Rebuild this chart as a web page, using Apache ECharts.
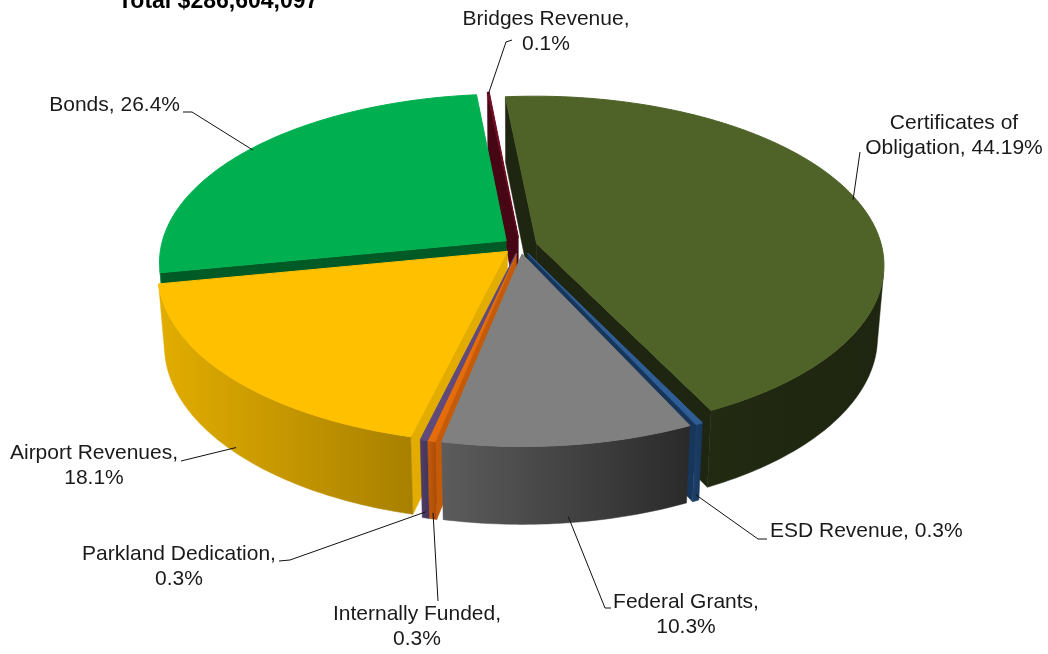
<!DOCTYPE html>
<html>
<head>
<meta charset="utf-8">
<title>Funding Sources</title>
<script src="https://cdn.jsdelivr.net/npm/echarts@6/dist/echarts.min.js"></script>
<style>
  html, body { margin: 0; padding: 0; background: #ffffff; }
  #chart { width: 1048px; height: 654px; }
</style>
</head>
<body>
<div id="chart"></div>
<script>
// ---- data ----
const totalLabel = 'Total $286,604,097';
const categories = [
  'Certificates of Obligation',
  'ESD Revenue',
  'Federal Grants',
  'Internally Funded',
  'Parkland Dedication',
  'Airport Revenues',
  'Bonds',
  'Bridges Revenue'
];
const shares = [44.19, 0.3, 10.3, 0.3, 0.3, 18.1, 26.4, 0.1];
// where each label wraps: inside the name, before the share, or not at all
const labelWrap = ['name', 'none', 'value', 'value', 'value', 'value', 'none', 'value'];

// ---- colours: top face, lit side, shaded side ----
const topColors   = ['#4F6228', '#2F5D95', '#808080', '#E46C0A', '#604A7B', '#FFC000', '#00B050', '#6C0A20'];
const sideLight   = ['#222A12', '#1D3F68', '#5C5C5C', '#C55A08', '#4F3D66', '#E2AD00', '#008A3D', '#5A0819'];
const sideDark    = ['#1E2510', '#17365C', '#2A2A2A', '#A84C07', '#43345A', '#A88000', '#005A26', '#470614'];

// ---- 3D pie view ----
const PIE = {
  cx: 520, cy: 317,      // projected centre of the base
  radius: 345,           // on-screen radius across the middle
  tilt: 30.5,            // camera elevation, degrees
  dist: 7,               // camera distance in radii (perspective)
  thick: 0.24,           // slab height in radii
  explode: 0.05,         // slice offset in radii
  start: -5.5            // first slice angle, degrees clockwise from 12 o'clock
};

// label text centres and leader-line bend points
const LABEL_LAYOUT = [
  { x: 954, y: 136, align: 'center', bend: [[860, 152]] },
  { x: 770, y: 531, align: 'left',   bend: [[758, 539], [767, 539]] },
  { x: 686, y: 615, align: 'center', bend: [[605, 608], [611, 608]] },
  { x: 417, y: 627, align: 'center', bend: [[438, 601]] },
  { x: 179, y: 567, align: 'center', bend: [[290, 560], [279, 561]] },
  { x: 94,  y: 466, align: 'center', bend: [[181, 461]] },
  { x: 180, y: 105, align: 'right',  bend: [[192, 112], [183, 112]] },
  { x: 546, y: 32,  align: 'center', bend: [[506, 42], [512, 40]] }
];

const LABEL_FONT = '21px "Liberation Sans", Arial, sans-serif';
const RAD = Math.PI / 180;

function labelText(i) {
  const name = categories[i];
  const pct = shares[i] + '%';
  if (labelWrap[i] === 'name') {
    const k = name.lastIndexOf(' ');
    return name.slice(0, k) + '\n' + name.slice(k + 1) + ', ' + pct;
  }
  if (labelWrap[i] === 'value') return name + ',\n' + pct;
  return name + ', ' + pct;
}

function buildPie() {
  const sinA = Math.sin(PIE.tilt * RAD), cosA = Math.cos(PIE.tilt * RAD);
  const D = PIE.dist, T = PIE.thick;
  const F = PIE.radius * (D - T * sinA);
  const depthOf = (X, Y, Z) => D - Y * sinA + Z * cosA;
  const project = (X, Y, Z) => {
    const k = F / depthOf(X, Y, Z);
    return [PIE.cx + X * k, PIE.cy - (Y * cosA + Z * sinA) * k];
  };
  const cam = [0, D * sinA, -D * cosA];
  const total = shares.reduce((a, b) => a + b, 0);
  let cum = 0;

  return shares.map((v, i) => {
    const a0 = PIE.start + cum / total * 360;
    cum += v;
    const a1 = PIE.start + cum / total * 360;
    const mid = (a0 + a1) / 2;
    const ox = PIE.explode * Math.sin(mid * RAD);
    const oz = PIE.explode * Math.cos(mid * RAD);
    const rim = (a, y, r) => {
      r = r === undefined ? 1 : r;
      return [ox + r * Math.sin(a * RAD), y, oz + r * Math.cos(a * RAD)];
    };
    const steps = Math.max(2, Math.ceil((a1 - a0) / 1));
    const angles = [];
    for (let s = 0; s <= steps; s++) angles.push(a0 + (a1 - a0) * s / steps);

    const elements = [];

    // radial cut faces exposed by the explosion
    [[a0, a0 - 90], [a1, a1 + 90]].forEach(([a, nAng]) => {
      const nx = Math.sin(nAng * RAD), nz = Math.cos(nAng * RAD);
      const p = rim(a, T / 2, 0.5);
      if ((cam[0] - p[0]) * nx + (cam[2] - p[2]) * nz <= 0) return;
      const corners = [[ox, T, oz], rim(a, T), rim(a, 0), [ox, 0, oz]];
      const dep = corners.reduce((s, q) => s + depthOf(q[0], q[1], q[2]), 0) / 4;
      const n = ((nAng % 360) + 360) % 360;
      const col = (n > 60 && n < 135) ? sideLight[i] : sideDark[i];
      elements.push({
        type: 'polygon',
        shape: { points: corners.map(q => project(q[0], q[1], q[2])) },
        style: { fill: col, stroke: col, lineWidth: 0.5 },
        z2: Math.round(10000 - dep * 1000)
      });
    });

    // outer curved wall, front-facing runs only
    const vis = angles.map(a => {
      const p = rim(a, T / 2);
      const nx = Math.sin(a * RAD), nz = Math.cos(a * RAD);
      return (cam[0] - p[0]) * nx + (cam[2] - p[2]) * nz > 0;
    });
    let run = [];
    const flush = () => {
      if (run.length >= 2) {
        const topPts = run.map(a => { const q = rim(a, T); return project(q[0], q[1], q[2]); });
        const botPts = run.map(a => { const q = rim(a, 0); return project(q[0], q[1], q[2]); });
        const pts = topPts.concat(botPts.slice().reverse());
        const dep = run.reduce((s, a) => { const q = rim(a, T / 2); return s + depthOf(q[0], q[1], q[2]); }, 0) / run.length;
        const fill = new echarts.graphic.LinearGradient(0, 0, 1, 0, [
          { offset: 0, color: sideLight[i] },
          { offset: 1, color: sideDark[i] }
        ]);
        elements.push({
          type: 'polygon',
          shape: { points: pts },
          style: { fill: fill, stroke: fill, lineWidth: 0.5 },
          z2: Math.round(10000 - dep * 1000)
        });
      }
      run = [];
    };
    angles.forEach((a, k) => { if (vis[k]) run.push(a); else flush(); });
    flush();

    // top face
    const topPts = [project(ox, T, oz)].concat(angles.map(a => { const q = rim(a, T); return project(q[0], q[1], q[2]); }));
    elements.push({
      type: 'polygon',
      shape: { points: topPts },
      style: { fill: topColors[i], stroke: topColors[i], lineWidth: 1, lineJoin: 'round' },
      z2: 9000
    });

    // label anchor: top rim for rear slices, foot of the wall for front slices
    const front = Math.cos(mid * RAD) < 0;
    const aq = front ? rim(mid, T * 0.08) : rim(mid, T, 0.99);
    const anchor = project(aq[0], aq[1], aq[2]);
    const lay = LABEL_LAYOUT[i];
    elements.push({
      type: 'polyline',
      shape: { points: [anchor].concat(lay.bend) },
      style: { stroke: '#111111', lineWidth: 1, fill: null },
      z2: 9500
    });
    elements.push({
      type: 'text',
      style: {
        text: labelText(i),
        x: lay.x, y: lay.y,
        align: lay.align, verticalAlign: 'middle',
        font: LABEL_FONT, lineHeight: 25, fill: '#1a1a1a'
      },
      z2: 9600
    });
    return elements;
  });
}

let pieCache = null;
function renderItem(params) {
  if (!pieCache) pieCache = buildPie();
  return { type: 'group', children: pieCache[params.dataIndex] };
}

const chart = echarts.init(document.getElementById('chart'), null, { renderer: 'canvas' });
chart.setOption({
  backgroundColor: '#ffffff',
  animation: false,
  graphic: [{
    type: 'text', x: 118, y: 2,
    style: { text: totalLabel, font: 'bold 23px "Liberation Sans", Arial, sans-serif', fill: '#000000', verticalAlign: 'middle' }
  }],
  series: [{
    type: 'custom',
    coordinateSystem: 'none',
    silent: true,
    renderItem: renderItem,
    data: shares.map((v, i) => ({ name: categories[i], value: v }))
  }]
});
</script>
</body>
</html>
